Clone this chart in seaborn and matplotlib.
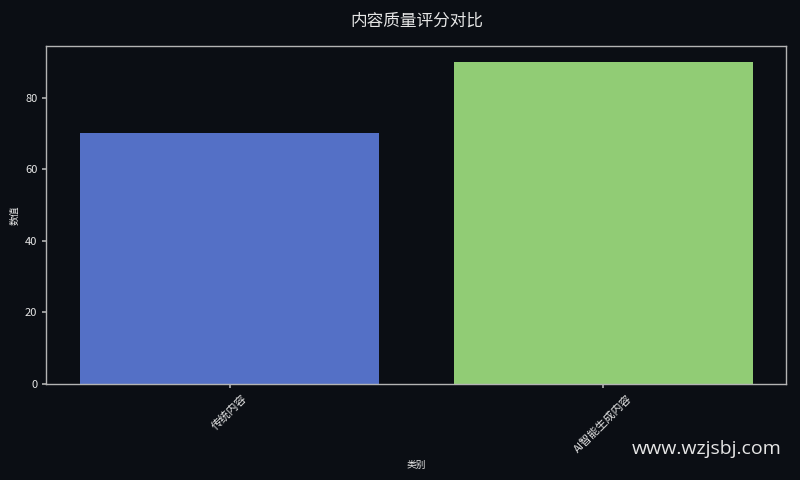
import matplotlib
matplotlib.use("Agg")
import matplotlib.pyplot as plt
import seaborn as sns
import pandas as pd

# -----------------------------
# DATA
# -----------------------------
categories = ["传统内容", "AI智能生成内容"]
scores = [70, 90]
bar_colors = ["#5470c6", "#91cc75"]

df = pd.DataFrame({"类别": categories, "数值": scores})

# -----------------------------
# STYLE
# -----------------------------
bg = "#0b0e14"
fg = "#e6e6e6"

sns.set_theme(style="dark")
plt.rcParams["font.family"] = ["Noto Sans CJK SC", "DejaVu Sans"]
plt.rcParams["axes.unicode_minus"] = False

fig, ax = plt.subplots(figsize=(8, 4.8), dpi=100)
fig.patch.set_facecolor(bg)
ax.set_facecolor(bg)

sns.barplot(
    x="类别",
    y="数值",
    data=df,
    hue="类别",
    palette=bar_colors,
    legend=False,
    width=0.8,
    saturation=1,
    edgecolor="none",
    linewidth=0,
    ax=ax,
)

# same padding as a plain plt.bar call
ax.set_xlim(-0.49, 1.49)

ax.set_title("内容质量评分对比", color=fg, fontsize=12, pad=14)
ax.set_xlabel("类别", color=fg, fontsize=7)
ax.set_ylabel("数值", color=fg, fontsize=7)
ax.tick_params(colors=fg, labelsize=8, length=3, bottom=True, left=True)
ax.tick_params(axis="both", color="#aaaaaa")
plt.setp(ax.get_xticklabels(), rotation=45, ha="center")

for s in ax.spines.values():
    s.set_color("#b4b4b4")
    s.set_linewidth(1)
    s.set_visible(True)

ax.grid(False)

fig.text(0.977, 0.045, "www.wzjsbj.com", color=fg, fontsize=14, ha="right", va="bottom",
         family=["Open Sans", "DejaVu Sans"])

plt.subplots_adjust(left=0.058, right=0.983, top=0.905, bottom=0.2)
plt.savefig("out.png", facecolor=bg)
